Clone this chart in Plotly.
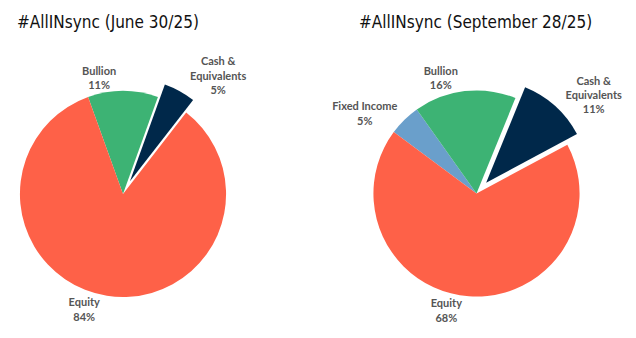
import plotly.graph_objects as go

# Data
left_labels = ["Bullion", "Cash & Equivalents", "Equity"]
left_names = ["Bullion", "Cash &<br>Equivalents", "Equity"]
left_values = [11, 5, 84]
left_colors = ["#3DB374", "#00284A", "#FE6148"]
left_pull = [0, 0.14, 0]

right_labels = ["Fixed Income", "Bullion", "Cash & Equivalents", "Equity"]
right_names = ["Fixed Income", "Bullion", "Cash &<br>Equivalents", "Equity"]
right_values = [5, 16, 11, 68]
right_colors = ["#6A9FCB", "#3DB374", "#00284A", "#FE6148"]
right_pull = [0, 0, 0.14, 0]

titles = ["#AllINsync (June 30/25)", "#AllINsync (September 28/25)"]

W, H = 636, 338
label_font = dict(family="Lato", size=11, color="#555555", weight="bold")

def dom(cx, cy, half):
    return dict(x=[(cx - half) / W, (cx + half) / W],
                y=[(H - cy - half) / H, (H - cy + half) / H])

fig = go.Figure()
fig.add_trace(go.Pie(
    labels=left_labels, values=left_values, customdata=left_names,
    sort=False, direction="clockwise", rotation=-19.8,
    marker=dict(colors=left_colors, line=dict(width=0)),
    pull=left_pull, textposition="outside", automargin=False,
    texttemplate="%{customdata}<br>%{value}%", textfont=label_font,
    domain=dom(123, 194, 117.5), showlegend=False,
))
fig.add_trace(go.Pie(
    labels=right_labels, values=right_values, customdata=right_names,
    sort=False, direction="clockwise", rotation=-53.4,
    marker=dict(colors=right_colors, line=dict(width=0)),
    pull=right_pull, textposition="outside", automargin=False,
    texttemplate="%{customdata}<br>%{value}%", textfont=label_font,
    domain=dom(476.5, 193.5, 117.5), showlegend=False,
))

title_font = dict(family="DejaVu Sans Condensed", size=17, color="#111111")
fig.add_annotation(text=titles[0], x=15 / W, y=1 - 22 / H, xref="paper", yref="paper",
                   xanchor="left", yanchor="middle", showarrow=False, font=title_font)
fig.add_annotation(text=titles[1], x=475 / W, y=1 - 22 / H, xref="paper", yref="paper",
                   xanchor="center", yanchor="middle", showarrow=False, font=title_font)

fig.update_layout(width=W, height=H,
                  margin=dict(l=0, r=0, t=0, b=0, pad=0, autoexpand=False),
                  paper_bgcolor="white", plot_bgcolor="white")
fig.write_html("out.html")
